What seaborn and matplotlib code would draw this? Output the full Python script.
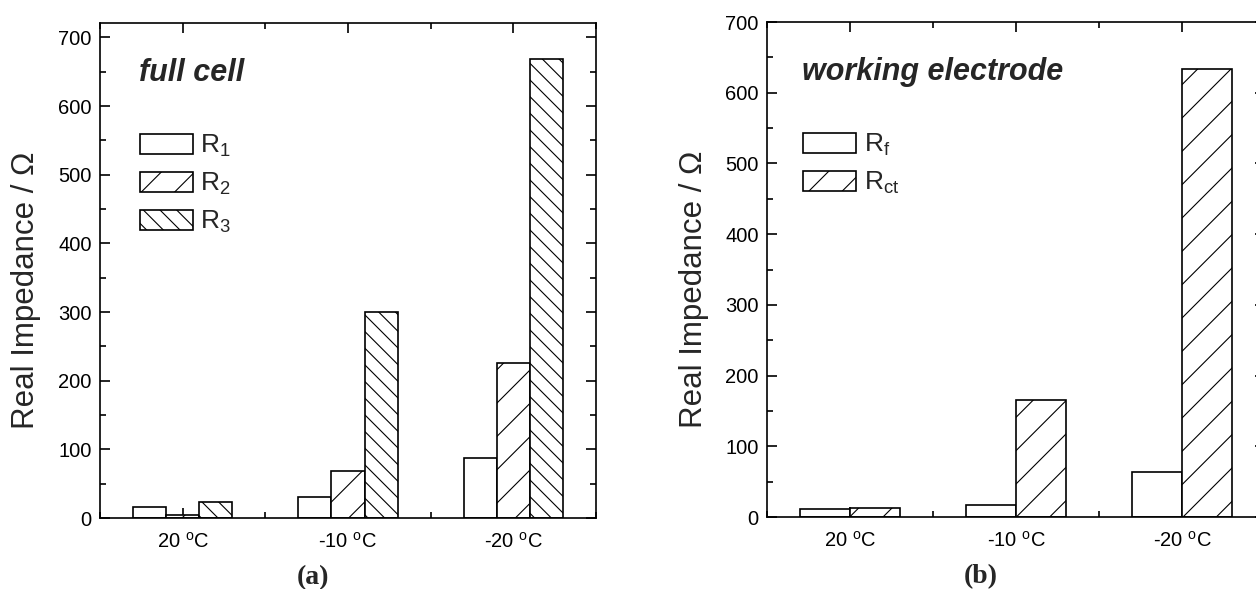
import matplotlib
matplotlib.use("Agg")
import matplotlib.pyplot as plt
from matplotlib.patches import Patch
from matplotlib.ticker import MultipleLocator
import seaborn as sns
import pandas as pd

# temperatures (x categories)
temperatures = ["20 $^{\\mathrm{o}}$C", "-10 $^{\\mathrm{o}}$C", "-20 $^{\\mathrm{o}}$C"]

# (a) full cell
full_labels = ["R$_1$", "R$_2$", "R$_3$"]
r1 = [16, 31, 88]
r2 = [5, 68, 226]
r3 = [23, 300, 668]

# (b) working electrode
we_labels = ["R$_\\mathrm{f}$", "R$_\\mathrm{ct}$"]
rf = [12, 17, 63]
rct = [13, 165, 633]

sns.set_theme(style="ticks")
plt.rcParams["font.family"] = ["Liberation Sans", "DejaVu Sans"]
plt.rcParams["mathtext.fontset"] = "custom"
plt.rcParams["mathtext.rm"] = "Liberation Sans"
plt.rcParams["mathtext.it"] = "Liberation Sans:italic"
plt.rcParams["hatch.linewidth"] = 0.8
plt.rcParams["hatch.color"] = "black"


def make_df(series, names):
    rows = []
    for vals, name in zip(series, names):
        for t, v in zip(temperatures, vals):
            rows.append({"temp": t, "series": name, "value": v})
    return pd.DataFrame(rows)


def draw_panel(ax, df, names, hatches, title, tag, ymax, legend_x):
    sns.barplot(data=df, x="temp", y="value", hue="series", hue_order=names,
                order=temperatures, width=0.6, gap=0, ax=ax, legend=False,
                errorbar=None)
    for cont, h in zip(ax.containers, hatches):
        for bar in cont:
            bar.set_facecolor("white")
            bar.set_edgecolor("black")
            bar.set_linewidth(1.2)
            bar.set_hatch(h)

    ax.set_xlim(-0.5, 2.5)
    ax.set_ylim(0, ymax)
    ax.yaxis.set_major_locator(MultipleLocator(100))
    ax.yaxis.set_minor_locator(MultipleLocator(50))
    ax.xaxis.set_minor_locator(MultipleLocator(0.5))
    ax.tick_params(axis="both", which="both", direction="in", top=True, right=True,
                   width=1.2, colors="black", labelsize=14.5)
    ax.tick_params(axis="both", which="major", length=7)
    ax.tick_params(axis="both", which="minor", length=4)
    ax.tick_params(axis="x", which="major", pad=10)
    ax.tick_params(axis="y", which="major", pad=6)
    for sp in ax.spines.values():
        sp.set_linewidth(1.2)
        sp.set_color("black")

    ax.set_xlabel("")
    ax.set_ylabel("Real Impedance / \u03a9", fontsize=22.5, labelpad=12)
    ax.yaxis.label.set_y(0.46)

    ax.text(legend_x, 0.90, title, transform=ax.transAxes, fontsize=22,
            fontweight="bold", fontstyle="italic", va="center", ha="left")
    ax.text(0.43, -0.12, tag, transform=ax.transAxes, fontsize=20,
            fontweight="bold", family="Liberation Serif", va="center", ha="center")

    handles = [Patch(facecolor="white", edgecolor="black", hatch=h, linewidth=1.2)
               for h in hatches]
    ax.legend(handles, names, loc="upper left", bbox_to_anchor=(legend_x - 0.036, 0.815),
              frameon=False, fontsize=19, handlelength=2.0, handleheight=0.8,
              labelspacing=0.45, handletextpad=0.3, borderpad=0.2)


fig = plt.figure(figsize=(12.56, 5.89), dpi=100)
ax1 = fig.add_axes([0.0796, 0.1205, 0.3949, 0.8404])
ax2 = fig.add_axes([0.6107, 0.1222, 0.3965, 0.8404])

draw_panel(ax1, make_df([r1, r2, r3], full_labels), full_labels,
           ["", "/", "\\\\"], "full cell", "(a)", 721, 0.079)
draw_panel(ax2, make_df([rf, rct], we_labels), we_labels,
           ["", "/"], "working electrode", "(b)", 700, 0.071)

fig.savefig("out.png", dpi=100)
